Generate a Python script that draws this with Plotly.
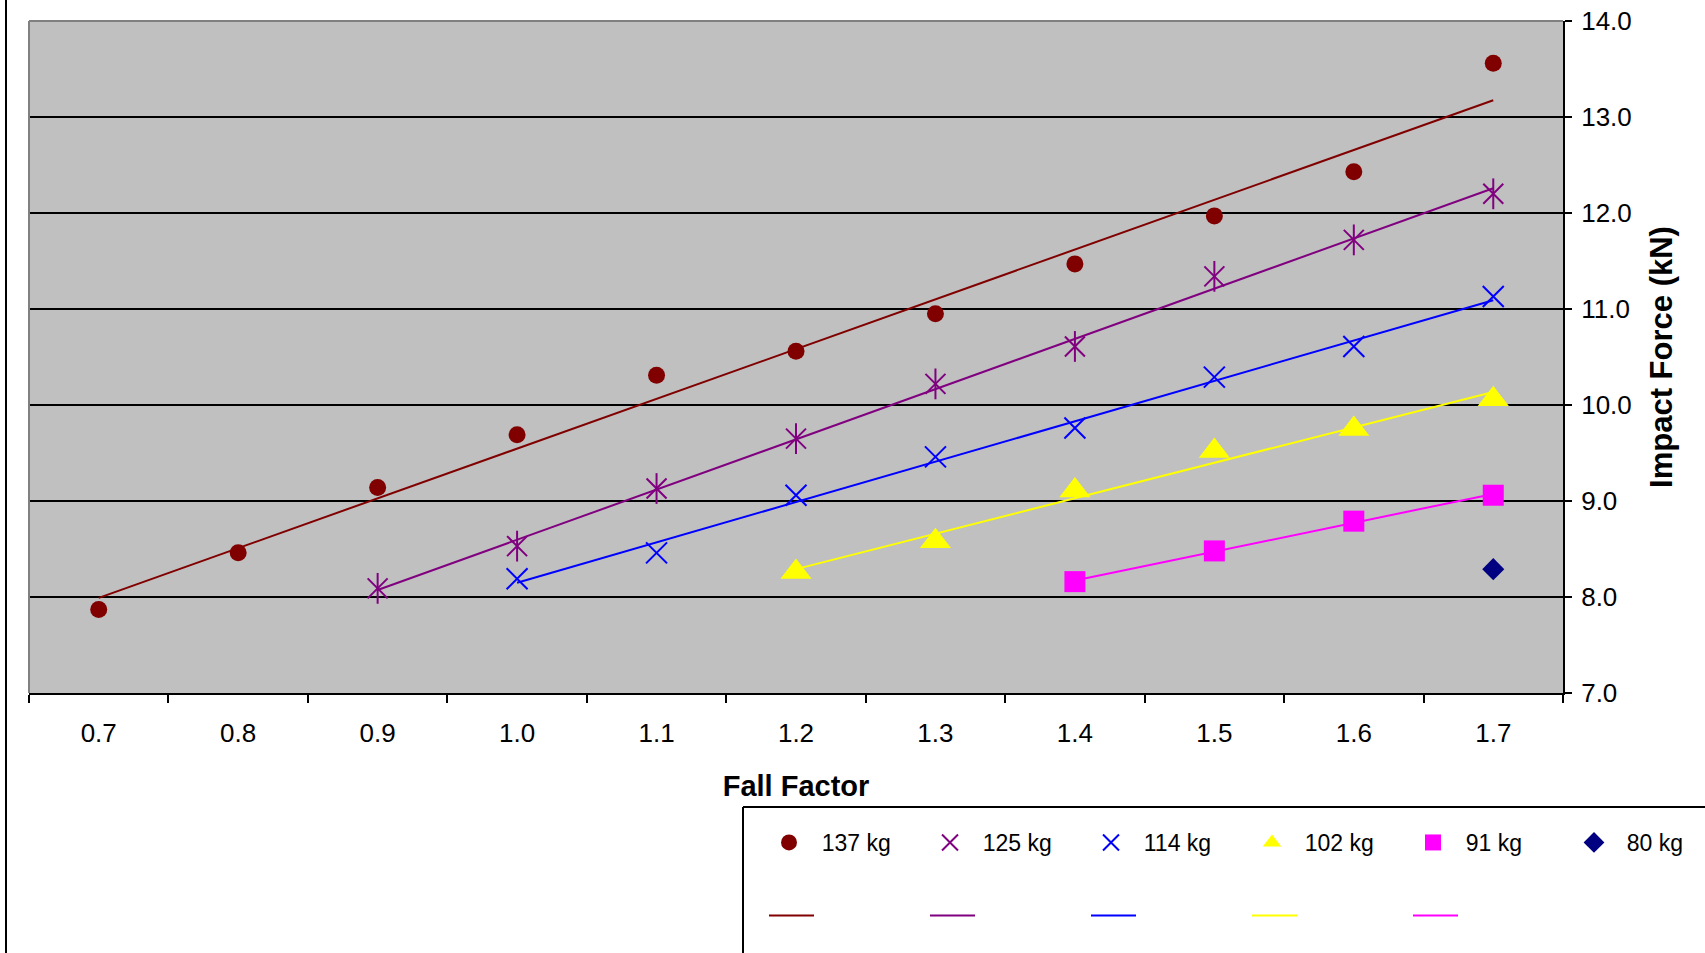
import numpy as np
import plotly.graph_objects as go

# ---------------- data ----------------
fall_factor = [0.7, 0.8, 0.9, 1.0, 1.1, 1.2, 1.3, 1.4, 1.5, 1.6, 1.7]

x_137 = [0.7, 0.8, 0.9, 1.0, 1.1, 1.2, 1.3, 1.4, 1.5, 1.6, 1.7]
y_137 = [7.87, 8.46, 9.14, 9.69, 10.31, 10.56, 10.95, 11.47, 11.97, 12.43, 13.56]

x_125 = [0.9, 1.0, 1.1, 1.2, 1.3, 1.4, 1.5, 1.6, 1.7]
y_125 = [8.09, 8.53, 9.13, 9.65, 10.22, 10.61, 11.34, 11.72, 12.20]

x_114 = [1.0, 1.1, 1.2, 1.3, 1.4, 1.5, 1.6, 1.7]
y_114 = [8.19, 8.46, 9.06, 9.46, 9.76, 10.29, 10.61, 11.13]

x_102 = [1.2, 1.3, 1.4, 1.5, 1.6, 1.7]
y_102 = [8.26, 8.58, 9.11, 9.52, 9.75, 10.06]

x_91 = [1.4, 1.5, 1.6, 1.7]
y_91 = [8.16, 8.48, 8.79, 9.06]

x_80 = [1.7]
y_80 = [8.29]

labels = ["137 kg", "125 kg", "114 kg", "102 kg", "91 kg", "80 kg"]
y_ticks = [7, 8, 9, 10, 11, 12, 13, 14]

# ---------------- layout geometry ----------------
W, H = 1705, 953
ML, MR, MT, MB = 29, 142, 21, 260
PW, PH = W - ML - MR, H - MT - MB


def px_x(px):
    return (px - ML) / PW


def px_y(py):
    return (H - MB - py) / PH


FONT = "Liberation Sans, Arial, sans-serif"
NB = "\u00a0\u00a0"

series = [
    (x_137, y_137, labels[0], "#800000", "circle", 17),
    (x_125, y_125, labels[1], "#800080", "x-thin-open", 20),
    (x_114, y_114, labels[2], "#0000FF", "x-thin-open", 21),
    (x_102, y_102, labels[3], "#FFFF00", "triangle-up", 27),
    (x_91, y_91, labels[4], "#FF00FF", "square", 21),
    (x_80, y_80, labels[5], "#000080", "diamond", 17),
]

fig = go.Figure()

# trendlines (linear least squares)
for xs, ys, name, color, sym, size in series:
    if len(xs) < 2:
        continue
    k, b = np.polyfit(xs, ys, 1)
    xt = [xs[0], xs[-1]]
    yt = [k * v + b for v in xt]
    fig.add_trace(go.Scatter(
        x=xt, y=yt, mode="lines", name=" ",
        line=dict(color=color, width=2),
        legend="legend2", hoverinfo="skip",
    ))

# markers
for xs, ys, name, color, sym, size in series:
    marker = dict(symbol=sym, size=size, color=color)
    if sym.endswith("-open"):
        marker["line"] = dict(color=color, width=2)
    fig.add_trace(go.Scatter(
        x=xs, y=ys, mode="markers", name=NB + name, marker=marker, legend="legend",
    ))
    if name == "125 kg":
        # vertical stroke to form the Excel-style star marker
        fig.add_trace(go.Scatter(
            x=xs, y=ys, mode="markers", showlegend=False,
            marker=dict(symbol="line-ns-open", size=22, color=color,
                        line=dict(color=color, width=2)),
            hoverinfo="skip",
        ))

bounds = [v - 0.05 for v in fall_factor] + [fall_factor[-1] + 0.05]

fig.update_layout(
    width=W, height=H,
    margin=dict(l=ML, r=MR, t=MT, b=MB, autoexpand=False),
    paper_bgcolor="white",
    plot_bgcolor="#C0C0C0",
    font=dict(family=FONT, color="black", size=26),
    xaxis=dict(
        range=[bounds[0], bounds[-1]],
        tickmode="array",
        tickvals=fall_factor,
        ticktext=[f"{v:.1f}" for v in fall_factor],
        ticks="",
        ticklabelstandoff=16,
        showline=True, linecolor="black", linewidth=2,
        showgrid=False, zeroline=False,
        minor=dict(tickmode="array", tickvals=bounds, ticks="outside",
                   ticklen=8, tickwidth=2, tickcolor="black", showgrid=False),
        title=dict(text="<b>Fall Factor</b>", font=dict(size=29, family=FONT),
                   standoff=28),
        tickfont=dict(size=26),
    ),
    yaxis=dict(
        side="right",
        range=[7, 14],
        tickmode="array",
        tickvals=y_ticks,
        ticktext=[f"{v:.1f}" for v in y_ticks],
        ticks="outside", ticklen=7, tickwidth=2, tickcolor="black",
        ticklabelstandoff=4,
        showline=True, linecolor="black", linewidth=2,
        showgrid=True, gridcolor="black", gridwidth=2,
        zeroline=False,
        title=dict(text="<b>Impact Force (kN)</b>", font=dict(size=31, family=FONT),
                   standoff=19),
        tickfont=dict(size=26),
    ),
    legend=dict(
        orientation="h", x=px_x(769), y=px_y(821), xanchor="left", yanchor="top",
        entrywidth=116, entrywidthmode="pixels",
        font=dict(size=23, family=FONT), bgcolor="rgba(0,0,0,0)", borderwidth=0,
    ),
    legend2=dict(
        orientation="h", x=px_x(764), y=px_y(894), xanchor="left", yanchor="top",
        entrywidth=101, entrywidthmode="pixels", itemwidth=45,
        font=dict(size=23, family=FONT), bgcolor="rgba(0,0,0,0)", borderwidth=0,
    ),
    shapes=[
        # gray frame on the top and left of the plot area
        dict(type="line", xref="paper", yref="paper", x0=0, x1=1, y0=1, y1=1,
             line=dict(color="#808080", width=2), layer="above"),
        dict(type="line", xref="paper", yref="paper", x0=0, x1=0, y0=0, y1=1,
             line=dict(color="#808080", width=2), layer="above"),
        # outer chart border at the far left
        dict(type="line", xref="paper", yref="paper", x0=px_x(6), x1=px_x(6),
             y0=px_y(0), y1=px_y(H), line=dict(color="black", width=2)),
        # legend box (top and left edges)
        dict(type="line", xref="paper", yref="paper", x0=px_x(743), x1=px_x(W),
             y0=px_y(807), y1=px_y(807), line=dict(color="black", width=2)),
        dict(type="line", xref="paper", yref="paper", x0=px_x(743), x1=px_x(743),
             y0=px_y(807), y1=px_y(H), line=dict(color="black", width=2)),
    ],
)

fig.write_html("out.html", config={"displayModeBar": False},
               post_script="document.body.style.margin='0';")
